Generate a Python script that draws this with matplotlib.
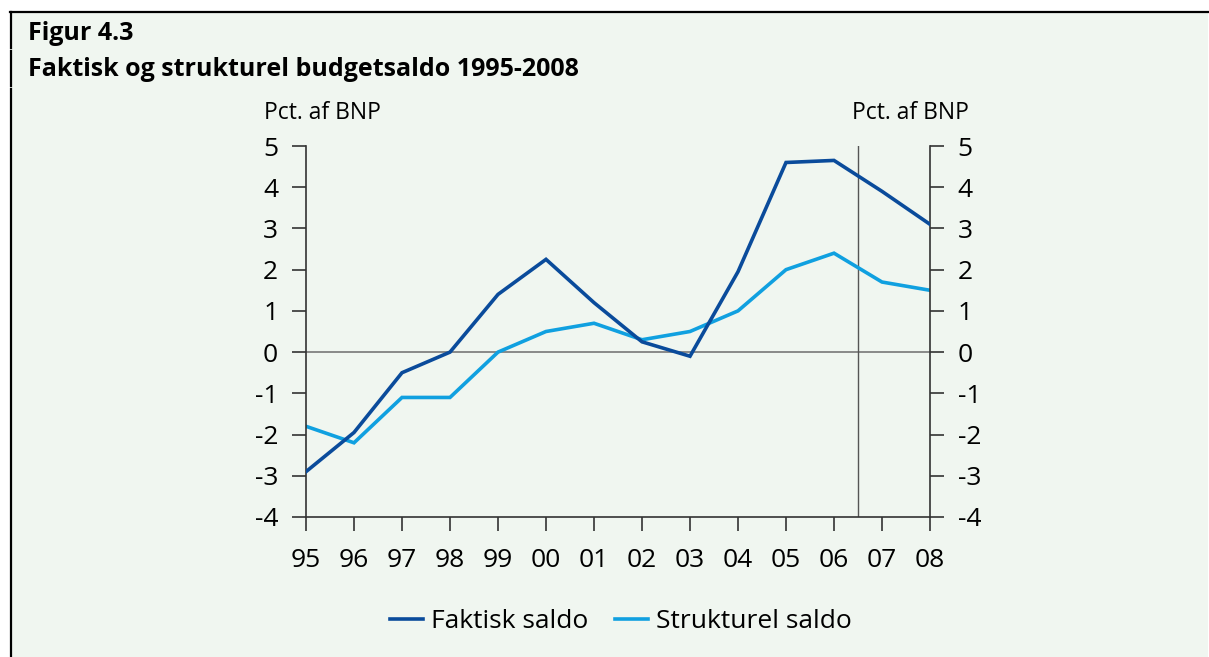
import matplotlib
matplotlib.use("Agg")
import matplotlib.pyplot as plt
from matplotlib.lines import Line2D

plt.rcParams['font.family'] = ['Open Sans', 'DejaVu Sans']

years = ["95", "96", "97", "98", "99", "00", "01", "02", "03", "04", "05", "06", "07", "08"]
faktisk = [-2.9, -1.95, -0.5, 0.0, 1.4, 2.25, 1.2, 0.25, -0.1, 1.95, 4.6, 4.65, 3.9, 3.1]
strukturel = [-1.8, -2.2, -1.1, -1.1, 0.0, 0.5, 0.7, 0.3, 0.5, 1.0, 2.0, 2.4, 1.7, 1.5]
yticks = [-4, -3, -2, -1, 0, 1, 2, 3, 4, 5]

W, H = 1209, 657
BG = "#f0f6f0"
C_F = "#0a4b9b"
C_S = "#10a0e0"
AX = "#333333"

fig = plt.figure(figsize=(W / 100, H / 100), dpi=100)
fig.patch.set_facecolor("white")

# background panel
fig.add_artist(plt.Rectangle((10 / W, 0), (1208 - 10) / W, (H - 12) / H,
                             transform=fig.transFigure, facecolor=BG, edgecolor="none", zorder=0))
# top border line
fig.add_artist(Line2D([10 / W, 1208 / W], [1 - 11.5 / H, 1 - 11.5 / H],
                      transform=fig.transFigure, color="black", lw=1.6))
# left border segments
for y0, y1 in [(12, 48), (51, 86), (89, 657)]:
    fig.add_artist(Line2D([11 / W, 11 / W], [1 - y0 / H, 1 - y1 / H],
                          transform=fig.transFigure, color="black", lw=1.6))

fig.text(28 / W, 1 - 33 / H, "Figur 4.3", fontsize=18, fontweight="bold", va="center", ha="left")
fig.text(28 / W, 1 - 70 / H, "Faktisk og strukturel budgetsaldo 1995-2008", fontsize=18,
         fontweight="bold", va="center", ha="left")

left, right, top, bottom = 306, 930, 146, 517
ax = fig.add_axes([left / W, 1 - bottom / H, (right - left) / W, (bottom - top) / H])
ax.set_facecolor("none")
x = list(range(len(years)))

ax.axhline(0, color="#777777", lw=1.2, zorder=1)
ax.axvline(11.5, color="#555555", lw=1.0, zorder=1)
ax.plot(x, faktisk, color=C_F, lw=2.6, zorder=3, solid_joinstyle="miter")
ax.plot(x, strukturel, color=C_S, lw=2.6, zorder=2, solid_joinstyle="miter")

ax.set_xlim(0, len(years) - 1)
ax.set_ylim(-4, 5)
ax.set_yticks(yticks)
ax.set_yticklabels([str(v) for v in yticks])
ax.set_xticks(x)
ax.set_xticklabels(years)

for s in ["top"]:
    ax.spines[s].set_visible(False)
for s in ["left", "right", "bottom"]:
    ax.spines[s].set_color(AX)
    ax.spines[s].set_linewidth(1.2)

ax.tick_params(axis="y", which="both", direction="out", length=10, width=1.2, color=AX,
               labelsize=19, pad=10, left=True, right=True, labelleft=True, labelright=True)
ax.tick_params(axis="x", direction="out", length=10, width=1.2, color=AX, labelsize=19, pad=12)

fig.text(322 / W, 1 - 113 / H, "Pct. af BNP", fontsize=16.5, ha="center", va="center")
fig.text(910 / W, 1 - 113 / H, "Pct. af BNP", fontsize=16.5, ha="center", va="center")

handles = [Line2D([], [], color=C_F, lw=2.6), Line2D([], [], color=C_S, lw=2.6)]
fig.legend(handles, ["Faktisk saldo", "Strukturel saldo"], loc="center",
           bbox_to_anchor=(621 / W, 1 - 622 / H), ncol=2, frameon=False, fontsize=19,
           handlelength=1.25, handletextpad=0.3, columnspacing=1.0)

fig.savefig("out.png", dpi=100, facecolor="white")
